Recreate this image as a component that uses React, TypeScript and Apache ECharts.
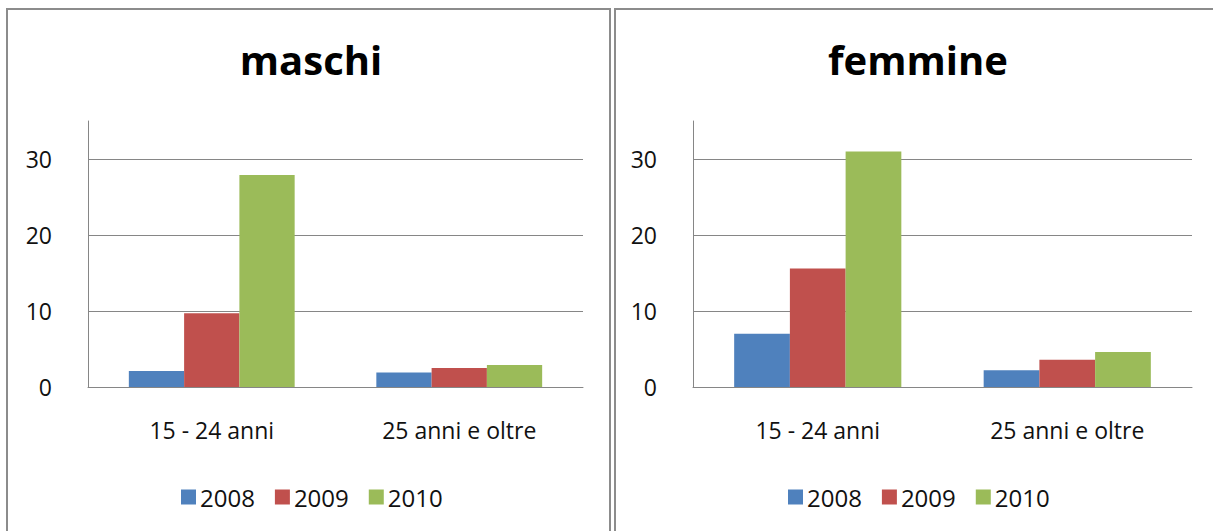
import React, { useEffect, useRef } from "react";
import * as echarts from "echarts";

const categories = ["15 - 24 anni", "25 anni e oltre"];
const years = ["2008", "2009", "2010"];
const maschi2008 = [2.1, 1.9];
const maschi2009 = [9.7, 2.5];
const maschi2010 = [27.9, 2.9];
const femmine2008 = [7.0, 2.2];
const femmine2009 = [15.6, 3.6];
const femmine2010 = [31.0, 4.6];
const yTicks = [0, 10, 20, 30];

const colors = ["#4F81BD", "#C0504D", "#9BBB59"];
const FONT = "'Open Sans', 'Noto Sans', sans-serif";

export default function App() {
  const ref = useRef<HTMLDivElement>(null);
  useEffect(() => {
    if (!ref.current) return;
    const chart = echarts.init(ref.current, undefined, { renderer: "svg" });
    const yAxisBase = (gridIndex: number) => ({
      type: "value",
      gridIndex,
      min: 0,
      max: 35,
      interval: 5,
      axisLine: { show: true, lineStyle: { color: "#868686", width: 1 } },
      axisTick: { show: false },
      axisLabel: {
        margin: 36,
        color: "#111",
        fontSize: 23,
        fontFamily: FONT,
        formatter: (v: number) => (yTicks.includes(v) ? String(v) : ""),
      },
      splitLine: { show: true, lineStyle: { color: ["#868686", "transparent"], width: 1 } },
    });
    const xAxisBase = (gridIndex: number) => ({
      type: "category",
      gridIndex,
      data: categories,
      axisLine: { show: true, lineStyle: { color: "#868686", width: 1 } },
      axisTick: { show: false },
      axisLabel: { margin: 31, color: "#111", fontSize: 23, fontFamily: FONT },
    });
    const mk = (name: string, data: number[], idx: number, gi: number) => ({
      type: "bar",
      name,
      data,
      xAxisIndex: gi,
      yAxisIndex: gi,
      barGap: "0%",
      barCategoryGap: "33%",
      itemStyle: { color: colors[idx] },
    });
    const legendBase = (left: number) => ({
      left,
      top: 485,
      padding: 0,
      data: years,
      itemWidth: 15,
      itemHeight: 15,
      itemGap: 20,
      icon: "rect",
      textStyle: { fontSize: 24, color: "#111", fontFamily: FONT, padding: [0, 0, 0, -1] },
      selectedMode: false,
    });
    chart.setOption({
      animation: false,
      backgroundColor: "#fff",
      title: [
        { text: "maschi", left: 306, top: 34, textAlign: "center", textStyle: { fontSize: 40, fontWeight: "bold", color: "#000", fontFamily: FONT } },
        { text: "femmine", left: 913, top: 34, textAlign: "center", textStyle: { fontSize: 40, fontWeight: "bold", color: "#000", fontFamily: FONT } },
      ],
      legend: [legendBase(181), legendBase(788)],
      grid: [
        { left: 88, right: 1213 - 583, top: 121, bottom: 531 - 387 },
        { left: 693, right: 1213 - 1192, top: 121, bottom: 531 - 387 },
      ],
      xAxis: [xAxisBase(0), xAxisBase(1)],
      yAxis: [yAxisBase(0), yAxisBase(1)],
      series: [
        mk(years[0], maschi2008, 0, 0),
        mk(years[1], maschi2009, 1, 0),
        mk(years[2], maschi2010, 2, 0),
        mk(years[0], femmine2008, 0, 1),
        mk(years[1], femmine2009, 1, 1),
        mk(years[2], femmine2010, 2, 1),
      ],
      graphic: [
        { type: "rect", shape: { x: 7, y: 9, width: 603, height: 600 }, style: { fill: "none", stroke: "#8c8c8c", lineWidth: 2 } },
        { type: "rect", shape: { x: 615, y: 9, width: 640, height: 600 }, style: { fill: "none", stroke: "#8c8c8c", lineWidth: 2 } },
      ],
    });
    return () => chart.dispose();
  }, []);
  return (
    <div
      ref={ref}
      style={{ position: "fixed", left: 0, top: 0, width: 1213, height: 531 }}
    />
  );
}
